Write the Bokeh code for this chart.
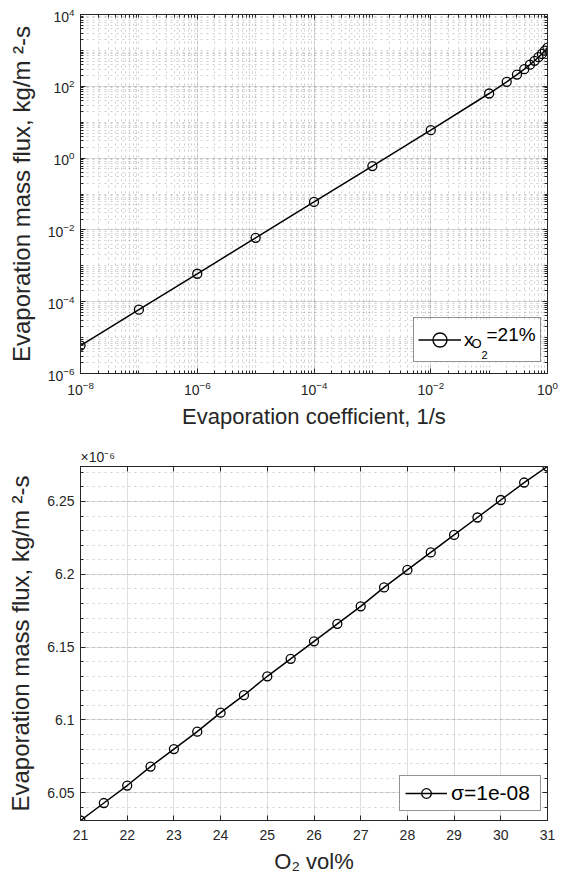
from bokeh.plotting import figure
from bokeh.layouts import column
from bokeh.models import (FixedTicker, LogAxis, LinearAxis, Legend, LegendItem, Label,
                          Title, CustomJSTickFormatter, Range1d, BoxAnnotation)
from bokeh.embed import file_html
from bokeh.resources import INLINE

# ---------------- data ----------------
# top panel: flux vs evaporation coefficient (log-log)
coef = [1e-8, 1e-7, 1e-6, 1e-5, 1e-4, 1e-3, 1e-2, 1e-1,
        0.2, 0.3, 0.4, 0.5, 0.6, 0.7, 0.8, 0.9, 1.0]
flux = [6.0e-6, 6.0e-5, 6.0e-4, 6.0e-3, 6.0e-2, 0.60, 6.0, 63,
        133, 212, 300, 400, 514, 646, 800, 982, 1200]
coef_ticks = [1e-8, 1e-6, 1e-4, 1e-2, 1.0]
flux_ticks = [1e-6, 1e-4, 1e-2, 1.0, 1e2, 1e4]
legend_top = ["x", "O", "2", "=21%"]

# bottom panel: flux (x1e-6) vs O2 vol%
o2 = [21, 21.5, 22, 22.5, 23, 23.5, 24, 24.5, 25, 25.5, 26,
      26.5, 27, 27.5, 28, 28.5, 29, 29.5, 30, 30.5, 31]
flux_o2 = [6.031, 6.043, 6.055, 6.068, 6.080, 6.092, 6.105, 6.117, 6.130, 6.142, 6.154,
           6.166, 6.178, 6.191, 6.203, 6.215, 6.227, 6.239, 6.251, 6.263, 6.274]
o2_ticks = [21, 22, 23, 24, 25, 26, 27, 28, 29, 30, 31]
flux_o2_ticks = [6.05, 6.1, 6.15, 6.2, 6.25]
flux_o2_minor = [6.03, 6.04, 6.05, 6.06, 6.07, 6.08, 6.09, 6.10, 6.11, 6.12, 6.13, 6.14,
                 6.15, 6.16, 6.17, 6.18, 6.19, 6.20, 6.21, 6.22, 6.23, 6.24, 6.25,
                 6.26, 6.27]
legend_bottom = "σ=1e-08"

AX = "#262626"
FONT = "Liberation Sans"
EMPTY = "return ''"


def style_axis(ax, ticker, labels=True, fmt=None):
    ax.ticker = ticker
    ax.axis_line_color = AX
    ax.axis_line_width = 1
    ax.major_tick_line_color = AX
    ax.minor_tick_line_color = AX
    ax.major_tick_in = 5
    ax.major_tick_out = 0
    ax.minor_tick_in = 3
    ax.minor_tick_out = 0
    ax.major_label_text_font = FONT
    ax.major_label_text_font_size = "14px"
    ax.major_label_text_color = AX
    ax.axis_label_text_font = FONT
    ax.axis_label_text_font_style = "normal"
    ax.axis_label_text_color = AX
    if fmt is not None:
        ax.formatter = fmt
    if not labels:
        ax.formatter = CustomJSTickFormatter(code=EMPTY)
        ax.major_label_standoff = 0


def style_grid(p, xminor=True, yminor=True):
    for g, mn in ((p.xgrid, xminor), (p.ygrid, yminor)):
        g.grid_line_color = AX
        g.grid_line_alpha = 0.15
        g.grid_line_width = 1
        if mn:
            g.minor_grid_line_color = AX
            g.minor_grid_line_alpha = 0.22
            g.minor_grid_line_dash = "dotted"
            g.minor_grid_line_width = 1


# ---------------- top figure ----------------
xminor = [k * 10.0 ** n for n in range(-8, 0) for k in range(1, 10)] + [1.0]
yminor = [k * 10.0 ** n for n in range(-6, 4) for k in range(1, 10)] + [1e4]
xt = FixedTicker(ticks=coef_ticks, minor_ticks=xminor)
yt = FixedTicker(ticks=flux_ticks, minor_ticks=yminor)

p1 = figure(width=564, height=436, x_axis_type="log", y_axis_type="log",
            x_range=Range1d(1e-8, 1.0), y_range=Range1d(1e-6, 1e4),
            output_backend="svg", toolbar_location=None,
            min_border_left=80, min_border_right=17, min_border_top=14,
            min_border_bottom=63)
p1.outline_line_color = AX
p1.background_fill_color = "white"
p1.border_fill_color = "white"

style_axis(p1.xaxis[0], xt)
style_axis(p1.yaxis[0], yt)
p1.xaxis[0].axis_label = "Evaporation coefficient, 1/s"
p1.xaxis[0].axis_label_text_font_size = "22px"
p1.xaxis[0].major_label_standoff = 7
p1.xaxis[0].axis_label_standoff = 6
p1.yaxis[0].axis_label = "Evaporation mass flux, kg/m \u00b2-s"
p1.yaxis[0].axis_label_text_font_size = "24px"
p1.yaxis[0].major_label_standoff = 6
p1.yaxis[0].axis_label_standoff = 10
style_grid(p1)

ta = LogAxis()
style_axis(ta, xt, labels=False)
p1.add_layout(ta, "above")
ra = LogAxis()
style_axis(ra, yt, labels=False)
p1.add_layout(ra, "right")

l1 = p1.line(coef, flux, line_color="black", line_width=1.5)
s1 = p1.scatter(coef, flux, marker="circle", size=9, fill_color=None,
                line_color="black", line_width=1.3)

# white backing box for the (transparent) legend
p1.add_layout(BoxAnnotation(left=333, right=459, bottom=11, top=54,
                            left_units="screen", right_units="screen",
                            bottom_units="screen", top_units="screen",
                            fill_color="white", fill_alpha=1, line_color=None,
                            level="annotation"))

leg1 = Legend(items=[LegendItem(label=legend_top[0], renderers=[l1, s1])],
              location=(333, 11), padding=4, glyph_width=43, glyph_height=35,
              label_width=72, label_height=35, label_standoff=3, spacing=0,
              margin=0, border_line_color=AX, border_line_width=1,
              background_fill_alpha=0,
              label_text_font=FONT, label_text_font_size="19px",
              label_text_baseline="alphabetic", label_text_color="black")
p1.add_layout(leg1)

for txt, fx, fy, fs in ((legend_top[1], 391, 30, "13px"),
                        (legend_top[2], 401, 19, "11px"),
                        (legend_top[3], 406, 39, "19px")):
    p1.add_layout(Label(x=fx, y=fy, x_units="screen", y_units="screen", text=txt,
                        text_font=FONT, text_font_size=fs, text_color="black",
                        text_baseline="middle", text_align="left"))

# ---------------- bottom figure ----------------
xt2 = FixedTicker(ticks=o2_ticks, minor_ticks=[])
yt2 = FixedTicker(ticks=flux_o2_ticks, minor_ticks=flux_o2_minor)
yfmt = CustomJSTickFormatter(code="return String(parseFloat(tick.toFixed(2)))")

p2 = figure(width=564, height=448,
            x_range=Range1d(min(o2), max(o2)),
            y_range=Range1d(min(flux_o2), max(flux_o2)),
            output_backend="svg", toolbar_location=None,
            min_border_left=80, min_border_right=17, min_border_top=30,
            min_border_bottom=64)
p2.outline_line_color = AX
p2.background_fill_color = "white"
p2.border_fill_color = "white"

style_axis(p2.xaxis[0], xt2)
style_axis(p2.yaxis[0], yt2, fmt=yfmt)
p2.xaxis[0].axis_label = "O\u2082 vol%"
p2.xaxis[0].axis_label_text_font_size = "22px"
p2.xaxis[0].major_label_standoff = 9
p2.xaxis[0].axis_label_standoff = 6
p2.yaxis[0].axis_label = "Evaporation mass flux, kg/m \u00b2-s"
p2.yaxis[0].axis_label_text_font_size = "24px"
p2.yaxis[0].major_label_standoff = 6
p2.yaxis[0].axis_label_standoff = 10
style_grid(p2, xminor=False, yminor=True)

ta2 = LinearAxis()
style_axis(ta2, xt2, labels=False)
p2.add_layout(ta2, "above")
ra2 = LinearAxis()
style_axis(ra2, yt2, labels=False)
p2.add_layout(ra2, "right")

p2.add_layout(Title(text="\u00d710\u207b\u2076", align="left", text_font=FONT,
                    text_font_size="14px", text_font_style="normal",
                    text_color=AX, standoff=3), "above")

l2 = p2.line(o2, flux_o2, line_color="black", line_width=1.5)
s2 = p2.scatter(o2, flux_o2, marker="circle", size=9, fill_color=None,
                line_color="black", line_width=1.3)

leg2 = Legend(items=[LegendItem(label=legend_bottom, renderers=[l2, s2])],
              location=(319, 9), padding=5, glyph_width=42, glyph_height=24,
              label_width=84, label_height=24, label_standoff=4, spacing=0,
              margin=0, border_line_color=AX, border_line_width=1,
              background_fill_color="white", background_fill_alpha=1,
              label_text_font=FONT, label_text_font_size="21px",
              label_text_color="black")
p2.add_layout(leg2)

layout = column(p1, p2, spacing=0)
open("out.html", "w").write(file_html(layout, INLINE))
